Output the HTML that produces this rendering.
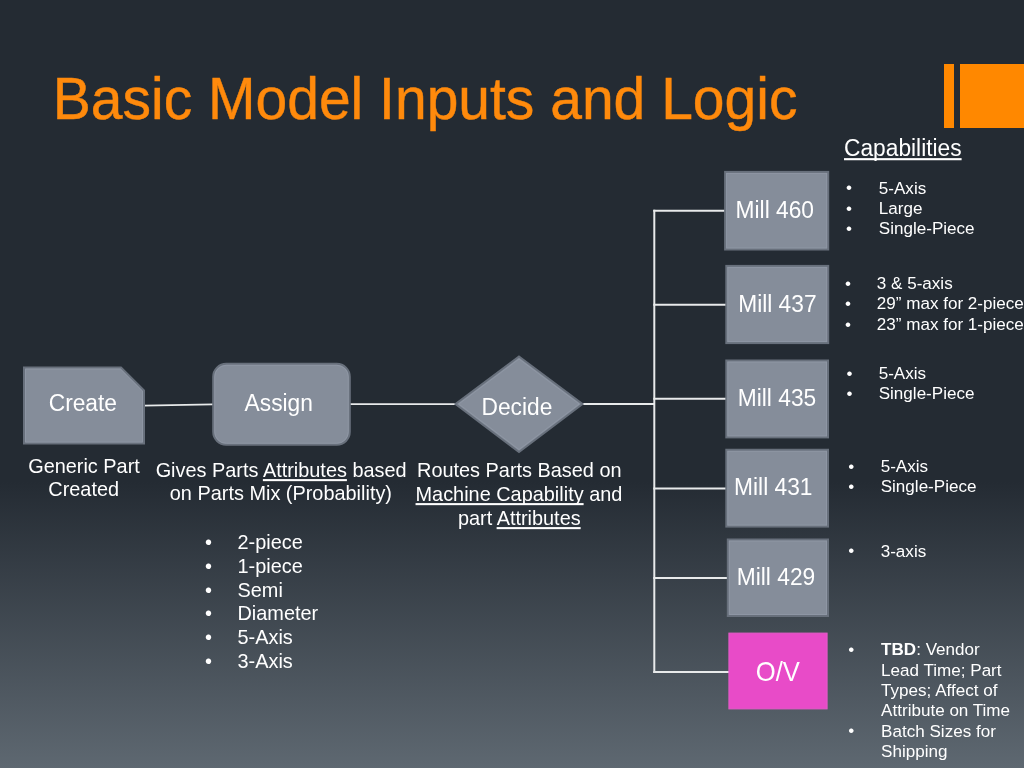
<!DOCTYPE html>
<html><head><meta charset="utf-8">
<style>
html,body{margin:0;padding:0;}
body{width:1024px;height:768px;overflow:hidden;position:relative;
 background:linear-gradient(to bottom,#242b33 0px,#242b33 482px,#5e6871 768px);
 font-family:"Liberation Sans",sans-serif;color:#fff;}
.t{position:absolute;white-space:nowrap;}
.u{text-decoration:underline;text-decoration-skip-ink:none;text-underline-offset:1.5px;text-decoration-thickness:2px;}
.bar{position:absolute;background:#ff8800;top:64px;height:64px;}
.ln{position:absolute;background:#e9eaeb;}
</style></head>
<body><div style="position:absolute;left:0;top:0;width:1024px;height:768px;filter:blur(0.4px);">
<div class="bar" style="left:944px;width:10px;"></div>
<div class="bar" style="left:960px;width:64px;"></div>
<svg style="position:absolute;left:0;top:0" width="1024" height="768">
 <g stroke="#e8eaeb" stroke-width="2" fill="none">
  <line x1="144" y1="405.6" x2="213" y2="404.3" stroke-width="1.8"/>
  <line x1="350" y1="404.2" x2="456" y2="404.2" stroke-width="1.8"/>
  <line x1="582" y1="404" x2="655" y2="404"/>
  <line x1="654.3" y1="209.7" x2="654.3" y2="672.9"/>
  <line x1="653.3" y1="210.7" x2="725" y2="210.7"/>
  <line x1="653.3" y1="304.8" x2="726" y2="304.8"/>
  <line x1="653.3" y1="398.7" x2="726" y2="398.7"/>
  <line x1="653.3" y1="488.4" x2="726" y2="488.4"/>
  <line x1="653.3" y1="578" x2="727" y2="578"/>
  <line x1="653.3" y1="671.9" x2="729" y2="671.9"/>
 </g>
 <g fill="#858d9a" stroke="#68707c" stroke-width="2">
  <polygon points="24,367.5 121,367.5 144,390.5 144,443.6 24,443.6"/>
  <rect x="213.2" y="363.8" width="136.6" height="81" rx="13" ry="13"/>
  <polygon points="519,356.5 582.5,404 519,452 455.5,404"/>
  <rect x="725.1" y="171.9" width="103.1" height="77.6"/>
  <rect x="726.3" y="265.9" width="101.9" height="77.2"/>
  <rect x="726.3" y="360.5" width="101.7" height="76.9"/>
  <rect x="726.3" y="449.75" width="101.7" height="76.85"/>
  <rect x="727.8" y="539.5" width="100.2" height="76.5"/>
 </g>
 <g fill="none" stroke="#959dab" stroke-width="1" opacity="0.6">
  <polygon points="25.5,369 120.4,369 142.5,391.1 142.5,442.1 25.5,442.1"/>
  <rect x="214.7" y="365.3" width="133.6" height="78" rx="11.5" ry="11.5"/>
  <polygon points="519,359 579.2,404 519,449.5 458.8,404"/>
  <rect x="726.6" y="173.4" width="100.1" height="74.6"/>
  <rect x="727.8" y="267.4" width="98.9" height="74.2"/>
  <rect x="727.8" y="362" width="98.7" height="73.9"/>
  <rect x="727.8" y="451.25" width="98.7" height="73.85"/>
  <rect x="729.3" y="541" width="97.2" height="73.5"/>
 </g>
 <rect x="728.9" y="633.1" width="98.2" height="75.8" fill="#e84bc8" stroke="#e45cc8" stroke-width="1"/>
</svg>
<div class="t" id="create" style="left:-67.15px;top:389.51px;font-size:22.76px;line-height:27px;width:300px;text-align:center;transform:scaleY(1.06);transform-origin:0 20.89px;">Create</div>
<div class="t" id="assign" style="left:128.75px;top:390.11px;font-size:22.76px;line-height:27px;width:300px;text-align:center;transform:scaleY(1.06);transform-origin:0 20.89px;">Assign</div>
<div class="t" id="decide" style="left:366.90px;top:393.91px;font-size:22.76px;line-height:27px;width:300px;text-align:center;transform:scaleY(1.06);transform-origin:0 20.89px;">Decide</div>
<div class="t" id="m460" style="left:624.80px;top:196.81px;font-size:22.76px;line-height:27px;width:300px;text-align:center;transform:scaleY(1.06);transform-origin:0 20.89px;">Mill 460</div>
<div class="t" id="m437" style="left:627.40px;top:290.91px;font-size:22.76px;line-height:27px;width:300px;text-align:center;transform:scaleY(1.06);transform-origin:0 20.89px;">Mill 437</div>
<div class="t" id="m435" style="left:627.00px;top:384.71px;font-size:22.76px;line-height:27px;width:300px;text-align:center;transform:scaleY(1.06);transform-origin:0 20.89px;">Mill 435</div>
<div class="t" id="m431" style="left:623.30px;top:474.31px;font-size:22.76px;line-height:27px;width:300px;text-align:center;transform:scaleY(1.06);transform-origin:0 20.89px;">Mill 431</div>
<div class="t" id="m429" style="left:626.00px;top:563.91px;font-size:22.76px;line-height:27px;width:300px;text-align:center;transform:scaleY(1.06);transform-origin:0 20.89px;">Mill 429</div>
<div class="t" id="ov" style="left:627.85px;top:657.43px;font-size:25.6px;line-height:31px;width:300px;text-align:center;transform:scaleY(1.05);transform-origin:0 23.87px;">O/V</div>
<div class="t" id="gp1" style="left:-66.00px;top:453.80px;font-size:19.9px;line-height:24px;width:300px;text-align:center;transform:scaleY(1.035);transform-origin:0 18.40px;">Generic Part</div>
<div class="t" id="gp2" style="left:-66.30px;top:477.30px;font-size:19.9px;line-height:24px;width:300px;text-align:center;transform:scaleY(1.035);transform-origin:0 18.40px;">Created</div>
<div class="t" id="gv1" style="left:131.15px;top:458.00px;font-size:19.9px;line-height:24px;width:300px;text-align:center;transform:scaleY(1.035);transform-origin:0 18.40px;">Gives Parts <span class="u">Attributes</span> based</div>
<div class="t" id="gv2" style="left:130.90px;top:480.90px;font-size:19.9px;line-height:24px;width:300px;text-align:center;transform:scaleY(1.035);transform-origin:0 18.40px;">on Parts Mix (Probability)</div>
<div class="t" id="rt1" style="left:369.30px;top:457.60px;font-size:19.9px;line-height:24px;width:300px;text-align:center;transform:scaleY(1.035);transform-origin:0 18.40px;">Routes Parts Based on</div>
<div class="t" id="rt2" style="left:368.95px;top:481.80px;font-size:19.9px;line-height:24px;width:300px;text-align:center;transform:scaleY(1.035);transform-origin:0 18.40px;"><span class="u">Machine Capability</span> and</div>
<div class="t" id="rt3" style="left:369.30px;top:505.90px;font-size:19.9px;line-height:24px;width:300px;text-align:center;transform:scaleY(1.035);transform-origin:0 18.40px;">part <span class="u">Attributes</span></div>
<div class="t" id="ab0" style="left:205.00px;top:530.00px;font-size:19.9px;line-height:24px;transform:scaleY(1.035);transform-origin:0 18.40px;">•</div>
<div class="t" id="at0" style="left:237.50px;top:530.00px;font-size:19.9px;line-height:24px;transform:scaleY(1.035);transform-origin:0 18.40px;">2-piece</div>
<div class="t" id="ab1" style="left:205.00px;top:553.60px;font-size:19.9px;line-height:24px;transform:scaleY(1.035);transform-origin:0 18.40px;">•</div>
<div class="t" id="at1" style="left:237.50px;top:553.60px;font-size:19.9px;line-height:24px;transform:scaleY(1.035);transform-origin:0 18.40px;">1-piece</div>
<div class="t" id="ab2" style="left:205.00px;top:577.50px;font-size:19.9px;line-height:24px;transform:scaleY(1.035);transform-origin:0 18.40px;">•</div>
<div class="t" id="at2" style="left:237.50px;top:577.50px;font-size:19.9px;line-height:24px;transform:scaleY(1.035);transform-origin:0 18.40px;">Semi</div>
<div class="t" id="ab3" style="left:205.00px;top:601.10px;font-size:19.9px;line-height:24px;transform:scaleY(1.035);transform-origin:0 18.40px;">•</div>
<div class="t" id="at3" style="left:237.50px;top:601.10px;font-size:19.9px;line-height:24px;transform:scaleY(1.035);transform-origin:0 18.40px;">Diameter</div>
<div class="t" id="ab4" style="left:205.00px;top:624.90px;font-size:19.9px;line-height:24px;transform:scaleY(1.035);transform-origin:0 18.40px;">•</div>
<div class="t" id="at4" style="left:237.50px;top:624.90px;font-size:19.9px;line-height:24px;transform:scaleY(1.035);transform-origin:0 18.40px;">5-Axis</div>
<div class="t" id="ab5" style="left:205.00px;top:648.50px;font-size:19.9px;line-height:24px;transform:scaleY(1.035);transform-origin:0 18.40px;">•</div>
<div class="t" id="at5" style="left:237.50px;top:648.50px;font-size:19.9px;line-height:24px;transform:scaleY(1.035);transform-origin:0 18.40px;">3-Axis</div>
<div class="t" id="cap" style="left:844.00px;top:135.21px;font-size:22.76px;line-height:27px;transform:scaleY(1.06);transform-origin:0 20.89px;"><span class="u">Capabilities</span></div>
<div class="t" id="g0b0" style="left:846.00px;top:178.39px;font-size:17.07px;line-height:20px;transform:scaleY(1.02);transform-origin:0 15.41px;">•</div>
<div class="t" id="g0t0" style="left:878.80px;top:178.59px;font-size:17.07px;line-height:20px;transform:scaleY(1.02);transform-origin:0 15.41px;">5-Axis</div>
<div class="t" id="g0b1" style="left:846.00px;top:198.89px;font-size:17.07px;line-height:20px;transform:scaleY(1.02);transform-origin:0 15.41px;">•</div>
<div class="t" id="g0t1" style="left:878.80px;top:199.09px;font-size:17.07px;line-height:20px;transform:scaleY(1.02);transform-origin:0 15.41px;">Large</div>
<div class="t" id="g0b2" style="left:846.00px;top:219.09px;font-size:17.07px;line-height:20px;transform:scaleY(1.02);transform-origin:0 15.41px;">•</div>
<div class="t" id="g0t2" style="left:878.80px;top:219.29px;font-size:17.07px;line-height:20px;transform:scaleY(1.02);transform-origin:0 15.41px;">Single-Piece</div>
<div class="t" id="g1b0" style="left:845.00px;top:273.59px;font-size:17.07px;line-height:20px;transform:scaleY(1.02);transform-origin:0 15.41px;">•</div>
<div class="t" id="g1t0" style="left:876.80px;top:273.79px;font-size:17.07px;line-height:20px;transform:scaleY(1.02);transform-origin:0 15.41px;">3 &amp; 5-axis</div>
<div class="t" id="g1b1" style="left:845.00px;top:294.09px;font-size:17.07px;line-height:20px;transform:scaleY(1.02);transform-origin:0 15.41px;">•</div>
<div class="t" id="g1t1" style="left:876.80px;top:294.29px;font-size:17.07px;line-height:20px;transform:scaleY(1.02);transform-origin:0 15.41px;">29” max for 2-piece</div>
<div class="t" id="g1b2" style="left:845.00px;top:314.69px;font-size:17.07px;line-height:20px;transform:scaleY(1.02);transform-origin:0 15.41px;">•</div>
<div class="t" id="g1t2" style="left:876.80px;top:314.89px;font-size:17.07px;line-height:20px;transform:scaleY(1.02);transform-origin:0 15.41px;">23” max for 1-piece</div>
<div class="t" id="g2b0" style="left:846.50px;top:363.69px;font-size:17.07px;line-height:20px;transform:scaleY(1.02);transform-origin:0 15.41px;">•</div>
<div class="t" id="g2t0" style="left:878.70px;top:363.89px;font-size:17.07px;line-height:20px;transform:scaleY(1.02);transform-origin:0 15.41px;">5-Axis</div>
<div class="t" id="g2b1" style="left:846.50px;top:383.99px;font-size:17.07px;line-height:20px;transform:scaleY(1.02);transform-origin:0 15.41px;">•</div>
<div class="t" id="g2t1" style="left:878.70px;top:384.19px;font-size:17.07px;line-height:20px;transform:scaleY(1.02);transform-origin:0 15.41px;">Single-Piece</div>
<div class="t" id="g3b0" style="left:848.20px;top:456.89px;font-size:17.07px;line-height:20px;transform:scaleY(1.02);transform-origin:0 15.41px;">•</div>
<div class="t" id="g3t0" style="left:880.70px;top:457.09px;font-size:17.07px;line-height:20px;transform:scaleY(1.02);transform-origin:0 15.41px;">5-Axis</div>
<div class="t" id="g3b1" style="left:848.20px;top:477.19px;font-size:17.07px;line-height:20px;transform:scaleY(1.02);transform-origin:0 15.41px;">•</div>
<div class="t" id="g3t1" style="left:880.70px;top:477.39px;font-size:17.07px;line-height:20px;transform:scaleY(1.02);transform-origin:0 15.41px;">Single-Piece</div>
<div class="t" id="g4b0" style="left:848.20px;top:541.39px;font-size:17.07px;line-height:20px;transform:scaleY(1.02);transform-origin:0 15.41px;">•</div>
<div class="t" id="g4t0" style="left:880.70px;top:541.59px;font-size:17.07px;line-height:20px;transform:scaleY(1.02);transform-origin:0 15.41px;">3-axis</div>
<div class="t" id="g5b0" style="left:848.20px;top:639.89px;font-size:17.07px;line-height:20px;transform:scaleY(1.02);transform-origin:0 15.41px;">•</div>
<div class="t" id="g5t0" style="left:881.10px;top:640.09px;font-size:17.07px;line-height:20px;transform:scaleY(1.02);transform-origin:0 15.41px;"><b>TBD</b>: Vendor</div>
<div class="t" id="g5t1" style="left:881.10px;top:660.59px;font-size:17.07px;line-height:20px;transform:scaleY(1.02);transform-origin:0 15.41px;">Lead Time; Part</div>
<div class="t" id="g5t2" style="left:881.10px;top:681.09px;font-size:17.07px;line-height:20px;transform:scaleY(1.02);transform-origin:0 15.41px;">Types; Affect of</div>
<div class="t" id="g5t3" style="left:881.10px;top:701.29px;font-size:17.07px;line-height:20px;transform:scaleY(1.02);transform-origin:0 15.41px;">Attribute on Time</div>
<div class="t" id="g5b4" style="left:848.20px;top:721.39px;font-size:17.07px;line-height:20px;transform:scaleY(1.02);transform-origin:0 15.41px;">•</div>
<div class="t" id="g5t4" style="left:881.10px;top:721.59px;font-size:17.07px;line-height:20px;transform:scaleY(1.02);transform-origin:0 15.41px;">Batch Sizes for</div>
<div class="t" id="g5t5" style="left:881.10px;top:741.69px;font-size:17.07px;line-height:20px;transform:scaleY(1.02);transform-origin:0 15.41px;">Shipping</div>
<div class="t" id="title" style="left:52.80px;top:65.15px;font-size:57px;line-height:68px;transform:scaleY(1.035);transform-origin:0 53.25px;color:#ff8a0c;-webkit-text-stroke:0.45px #ff8a0c;">Basic Model Inputs and Logic</div>
</div></body></html>
